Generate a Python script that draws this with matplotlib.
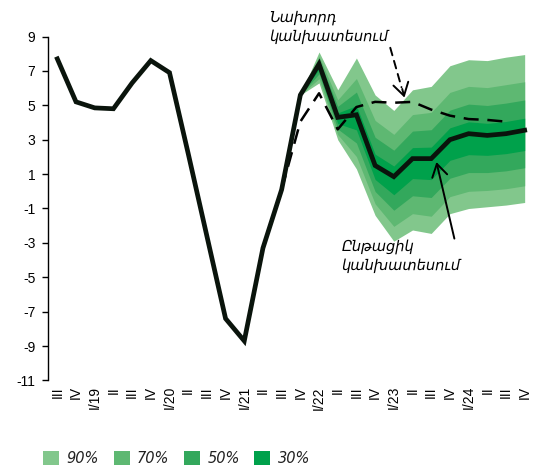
import matplotlib
matplotlib.use("Agg")
import matplotlib.pyplot as plt
from matplotlib.patches import Patch

# ---- data ----
tick_labels = ["III", "IV", "I/19", "II", "III", "IV", "I/20", "II", "III", "IV",
               "I/21", "II", "III", "IV", "I/22", "II", "III", "IV", "I/23", "II",
               "III", "IV", "I/24", "II", "III", "IV"]

current = [7.7, 5.2, 4.85, 4.8, 6.3, 7.6, 6.9, 2.2, -2.6, -7.4,
           -8.7, -3.3, 0.1, 5.6, 7.4, 4.3, 4.45, 1.5, 0.85, 1.9,
           1.9, 3.0, 3.35, 3.25, 3.35, 3.55]

prev_start = 12
previous = [0.1, 4.05, 5.7, 3.6, 4.9, 5.2, 5.15, 5.2, 4.75, 4.4, 4.2, 4.15, 4.05]

fan_start = 13
hi90 = [5.6, 8.1, 5.9, 7.75, 5.6, 4.7, 5.9, 6.1, 7.3, 7.65, 7.6, 7.8, 7.95]
hi70 = [5.6, 7.85, 5.32, 6.56, 4.12, 3.31, 4.46, 4.59, 5.75, 6.1, 6.03, 6.2, 6.37]
hi50 = [5.6, 7.68, 4.94, 5.77, 3.14, 2.39, 3.5, 3.58, 4.72, 5.07, 4.99, 5.13, 5.31]
hi30 = [5.6, 7.51, 4.56, 4.98, 2.16, 1.47, 2.54, 2.57, 3.69, 4.04, 3.95, 4.06, 4.25]
lo30 = [5.6, 7.09, 3.94, 3.57, 0.69, -0.2, 0.74, 0.68, 1.8, 2.13, 2.09, 2.19, 2.37]
lo50 = [5.6, 6.83, 3.62, 2.81, -0.01, -1.1, -0.26, -0.36, 0.76, 1.09, 1.09, 1.19, 1.37]
lo70 = [5.6, 6.55, 3.3, 2.02, -0.73, -2.04, -1.3, -1.45, -0.31, 0.0, 0.05, 0.15, 0.32]
lo90 = [5.6, 6.3, 3.0, 1.3, -1.4, -2.9, -2.25, -2.45, -1.3, -1.0, -0.9, -0.8, -0.65]

band_labels = ["90%", "70%", "50%", "30%"]
band_colors = ["#82c78c", "#5eb872", "#33a85c", "#00a14b"]

y_ticks = [9, 7, 5, 3, 1, -1, -3, -5, -7, -9, -11]

# ---- figure ----
fig = plt.figure(figsize=(5.49, 4.73), dpi=100)
ax = fig.add_axes([0.0874, 0.1956, 0.8853, 0.7272])

x_all = list(range(len(current)))
x_fan = list(range(fan_start, fan_start + len(hi90)))
x_prev = list(range(prev_start, prev_start + len(previous)))

for lo, hi, c in zip([lo90, lo70, lo50, lo30], [hi90, hi70, hi50, hi30], band_colors):
    ax.fill_between(x_fan, lo, hi, color=c, linewidth=0, zorder=1)

ax.plot(x_prev, previous, color="black", lw=1.8, dashes=(6, 3.5), zorder=3)
ax.plot(x_all, current, color="#0a140c", lw=3.4, solid_joinstyle="miter", zorder=4)

ax.set_xlim(-0.5, 25.5)
ax.set_ylim(-11, 9)
ax.set_yticks(y_ticks)
ax.set_yticklabels([str(v) for v in y_ticks], fontsize=10, family="Liberation Sans")
ax.set_xticks(x_all)
ax.set_xticklabels(tick_labels, rotation=90, fontsize=10, family="Liberation Sans")
ax.tick_params(axis="x", length=0, pad=4)
ax.tick_params(axis="y", length=4, width=1, pad=5)
for s in ["top", "right", "bottom"]:
    ax.spines[s].set_visible(False)
ax.spines["left"].set_linewidth(1)

# annotations
ax.text(11.36, 10.55, "Նախորդ\nկանխատեսում", fontsize=10.5, style="italic",
        family="DejaVu Sans", va="top", ha="left", linespacing=1.35, clip_on=False)
ax.annotate("", xy=(18.45, 5.9), xytext=(17.77, 8.5), annotation_clip=False,
            arrowprops=dict(arrowstyle="-", color="black", lw=1.4, linestyle=(0, (4, 3))))
ax.annotate("", xy=(18.57, 5.45), xytext=(18.45, 5.95), annotation_clip=False,
            arrowprops=dict(arrowstyle="->,head_length=0.9,head_width=0.55", color="black", lw=1.4,
                            shrinkA=0, shrinkB=0))

ax.text(15.2, -2.75, "Ընթացիկ\nկանխատեսում", fontsize=10.5, style="italic",
        family="DejaVu Sans", va="top", ha="left", linespacing=1.35)
ax.annotate("", xy=(20.28, 1.7), xytext=(21.24, -2.75),
            arrowprops=dict(arrowstyle="->,head_length=0.9,head_width=0.55", color="black", lw=1.4,
                            shrinkA=0, shrinkB=0))

handles = [Patch(facecolor=c, edgecolor="none") for c in band_colors]
leg = fig.legend(handles, band_labels, loc="lower left", bbox_to_anchor=(0.055, -0.012),
                 ncol=4, frameon=False, handlelength=1.1, handleheight=1.1,
                 handletextpad=0.5, columnspacing=1.0,
                 prop={"size": 10.5, "style": "italic", "family": "DejaVu Sans"})
for t in leg.get_texts():
    t.set_color("#222222")

fig.savefig("out.png", dpi=100)
